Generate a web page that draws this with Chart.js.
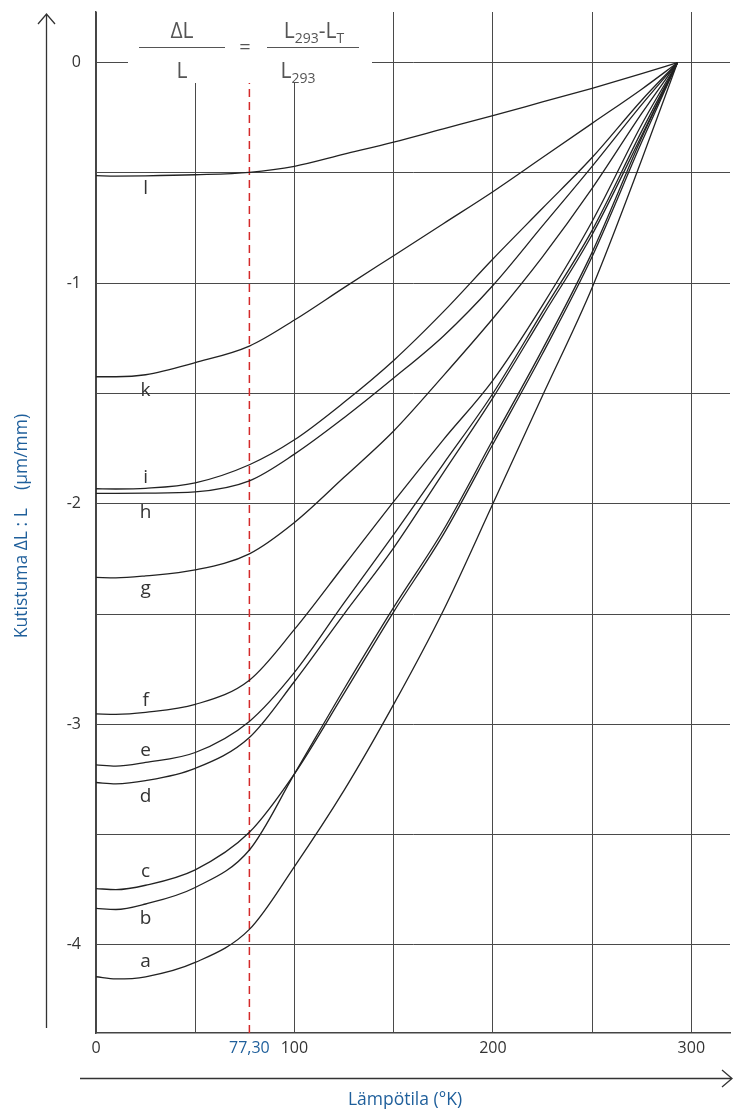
<!DOCTYPE html>
<html>
<head>
<meta charset="utf-8">
<script src="https://cdn.jsdelivr.net/npm/chart.js@4"></script>
<style>
body{margin:0;background:#fff;}
</style>
</head>
<body>
<canvas id="chart" width="736" height="1110"></canvas>
<script>
// lämpötila (K) where the curves were read
var temps = [0, 10, 25, 50, 77.3, 100, 125, 150, 175, 200, 225, 250, 275, 293];

// kutistuma (um/mm) for each material curve
var curveA = [-4.145, -4.155, -4.145, -4.08, -3.93, -3.645, -3.30, -2.91, -2.485, -2.00, -1.51, -1.02, -0.44, 0];
var curveB = [-3.835, -3.84, -3.815, -3.74, -3.57, -3.225, -2.84, -2.47, -2.12, -1.71, -1.30, -0.86, -0.34, 0];
var curveC = [-3.745, -3.75, -3.73, -3.66, -3.49, -3.225, -2.86, -2.49, -2.14, -1.73, -1.32, -0.88, -0.36, 0];
var curveD = [-3.264, -3.27, -3.256, -3.20, -3.06, -2.806, -2.50, -2.20, -1.86, -1.52, -1.15, -0.78, -0.33, 0];
var curveE = [-3.184, -3.19, -3.173, -3.128, -2.987, -2.765, -2.45, -2.14, -1.82, -1.50, -1.13, -0.76, -0.31, 0];
var curveF = [-2.953, -2.955, -2.946, -2.91, -2.80, -2.57, -2.28, -1.99, -1.71, -1.44, -1.10, -0.72, -0.28, 0];
var curveG = [-2.334, -2.336, -2.327, -2.30, -2.227, -2.085, -1.88, -1.67, -1.42, -1.16, -0.88, -0.57, -0.23, 0];
var curveH = [-1.953, -1.953, -1.952, -1.946, -1.896, -1.775, -1.61, -1.43, -1.24, -1.01, -0.74, -0.47, -0.19, 0];
var curveI = [-1.932, -1.933, -1.93, -1.905, -1.823, -1.71, -1.54, -1.35, -1.13, -0.89, -0.66, -0.43, -0.17, 0];
var curveK = [-1.424, -1.424, -1.415, -1.36, -1.285, -1.167, -1.02, -0.875, -0.73, -0.585, -0.43, -0.275, -0.12, 0];
var curveL = [-0.512, -0.514, -0.513, -0.508, -0.497, -0.470, -0.415, -0.36, -0.30, -0.240, -0.178, -0.116, -0.05, 0];

var curveNames = ['a', 'b', 'c', 'd', 'e', 'f', 'g', 'h', 'i', 'k', 'l'];
var curves = [curveA, curveB, curveC, curveD, curveE, curveF, curveG, curveH, curveI, curveK, curveL];

var xTicks = [0, 50, 77.3, 100, 150, 200, 250, 300];
var yTicks = [-4, -3.5, -3, -2.5, -2, -1.5, -1, -0.5, 0];
var markT = 77.3;   // nestemäisen typen lämpötila

// where the letter sits relative to its curve (px, at T = 25)
var labelShift = {a: -15, b: 15, c: -14, d: 16, e: -12, f: -12, g: 13, h: 19, i: -11, k: 16, l: 13};

var blue = '#1f5f9b';
var ink = '#333';
var font = '"Open Sans", "DejaVu Sans", sans-serif';

function isMark(v){ return Math.abs(v - markT) < 1e-6; }

var datasets = curves.map(function(vals, n){
	return {
		label: curveNames[n],
		data: temps.map(function(t, j){ return {x: t, y: vals[j]}; }),
		borderColor: '#222',
		borderWidth: 1.3,
		pointRadius: 0,
		fill: false,
		cubicInterpolationMode: 'monotone'
	};
});

datasets.push({
	label: '77,30',
	data: [{x: markT, y: -4.4}, {x: markT, y: 0}],
	borderColor: '#d42a2a',
	borderWidth: 1.5,
	borderDash: [8, 5],
	pointRadius: 0,
	fill: false
});

function richText(c, parts, cx, base, size){
	var subSize = Math.round(size * 0.68);
	var w = 0;
	parts.forEach(function(p){
		c.font = (p[1] ? subSize : size) + 'px ' + font;
		w += c.measureText(p[0]).width;
	});
	var x = cx - w / 2;
	parts.forEach(function(p){
		c.font = (p[1] ? subSize : size) + 'px ' + font;
		c.fillText(p[0], x, p[1] ? base + 5 : base);
		x += c.measureText(p[0]).width;
	});
}

var extras = {
	id: 'extras',
	afterDatasetsDraw: function(chart){
		var c = chart.ctx;
		c.save();
		// formula box hides the grid behind it
		c.fillStyle = '#fff';
		c.fillRect(128, 0, 244, 83);

		c.fillStyle = '#555';
		c.strokeStyle = '#555';
		c.lineWidth = 1.2;
		c.textAlign = 'left';
		c.textBaseline = 'alphabetic';
		richText(c, [['ΔL', false]], 182, 38, 21);
		richText(c, [['L', false]], 182, 78, 21);
		richText(c, [['L', false], ['293', true], ['-L', false], ['T', true]], 314, 38, 21);
		richText(c, [['L', false], ['293', true]], 298, 78, 21);
		richText(c, [['=', false]], 245, 54, 20);

		c.beginPath();
		c.moveTo(139, 47.5); c.lineTo(225, 47.5);
		c.moveTo(267, 47.5); c.lineTo(359, 47.5);
		c.stroke();
		c.restore();
	},
	afterDraw: function(chart){
		var c = chart.ctx;
		var xs = chart.scales.x, ys = chart.scales.y;
		c.save();
		c.strokeStyle = ink;
		c.lineWidth = 1.3;

		// y arrow
		c.beginPath();
		c.moveTo(46.5, 1028); c.lineTo(46.5, 14);
		c.moveTo(38, 24); c.lineTo(46.5, 14); c.lineTo(55, 24);
		// x arrow
		c.moveTo(80, 1078.5); c.lineTo(732, 1078.5);
		c.moveTo(722, 1070); c.lineTo(732, 1078.5); c.lineTo(722, 1087);
		c.stroke();

		// axis titles
		c.fillStyle = blue;
		c.font = '17.5px ' + font;
		c.textAlign = 'center';
		c.textBaseline = 'middle';
		c.fillText('Lämpötila (°K)', 405, 1100);
		c.translate(22, 526);
		c.rotate(-Math.PI / 2);
		c.fillText('Kutistuma ΔL : L    (µm/mm)', 0, 0);
		c.setTransform(1, 0, 0, 1, 0, 0);

		// curve letters
		c.fillStyle = ink;
		c.font = '19px ' + font;
		var px = xs.getPixelForValue(temps[2]);
		curveNames.forEach(function(nm, n){
			var py = ys.getPixelForValue(curves[n][2]) + labelShift[nm];
			c.fillText(nm, px, py);
		});
		c.restore();
	}
};

new Chart(document.getElementById('chart'), {
	type: 'line',
	data: {datasets: datasets},
	options: {
		responsive: false,
		animation: false,
		devicePixelRatio: 1,
		layout: {padding: {top: 12, right: 6, left: 0, bottom: 0}},
		plugins: {legend: {display: false}, tooltip: {enabled: false}},
		scales: {
			x: {
				type: 'linear',
				min: 0,
				max: 319.5,
				afterBuildTicks: function(scale){
					scale.ticks = xTicks.map(function(v){ return {value: v}; });
				},
				afterFit: function(scale){ scale.height = 77; },
				grid: {
					color: function(ctx){ return ctx.tick && isMark(ctx.tick.value) ? 'rgba(0,0,0,0)' : '#4a4a4a'; },
					lineWidth: 1,
					drawTicks: false
				},
				border: {color: '#444', width: 1.5},
				ticks: {
					autoSkip: false,
					maxRotation: 0,
					padding: 6,
					font: {family: font, size: 16},
					color: function(ctx){ return ctx.tick && isMark(ctx.tick.value) ? blue : ink; },
					callback: function(v){
						if (isMark(v)) return '77,30';
						return v % 100 === 0 ? String(v) : '';
					}
				}
			},
			y: {
				type: 'linear',
				min: -4.4,
				max: 0.23,
				afterBuildTicks: function(scale){
					scale.ticks = yTicks.map(function(v){ return {value: v}; });
				},
				afterFit: function(scale){
					scale.width = 96;
					scale.paddingTop = 0;
					scale.paddingBottom = 0;
				},
				grid: {color: '#4a4a4a', lineWidth: 1, drawTicks: false},
				border: {color: '#444', width: 1.5},
				ticks: {
					padding: 15,
					font: {family: font, size: 16},
					color: ink,
					callback: function(v){ return Number.isInteger(v) ? String(v) : ''; }
				}
			}
		}
	},
	plugins: [extras]
});
</script>
</body>
</html>
